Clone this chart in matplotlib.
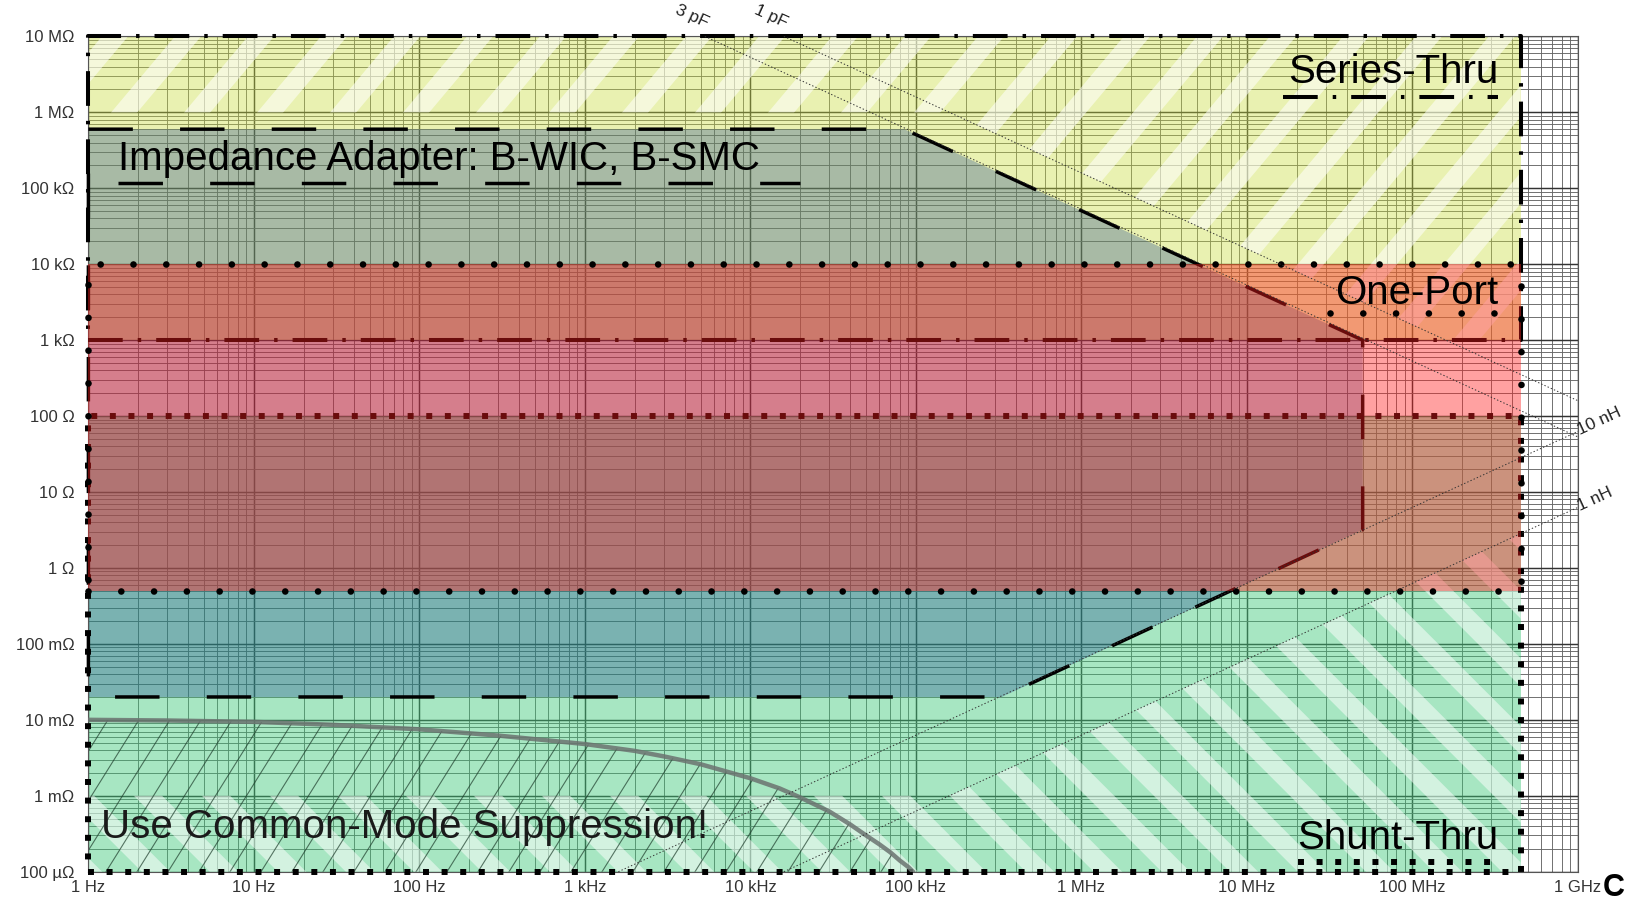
import numpy as np
import matplotlib
matplotlib.use("Agg")
import matplotlib.pyplot as plt
from matplotlib.patches import Polygon
from matplotlib.collections import LineCollection
from matplotlib.ticker import LogLocator, NullFormatter

plt.rcParams['font.family'] = ['Liberation Sans', 'DejaVu Sans']
plt.rcParams['lines.scale_dashes'] = False

# === axis ticks ===
freq_ticks = [1, 10, 100, 1e3, 1e4, 1e5, 1e6, 1e7, 1e8, 1e9]
freq_labels = ["1 Hz", "10 Hz", "100 Hz", "1 kHz", "10 kHz", "100 kHz",
               "1 MHz", "10 MHz", "100 MHz", "1 GHz"]
imp_ticks = [1e-4, 1e-3, 1e-2, 1e-1, 1, 10, 100, 1e3, 1e4, 1e5, 1e6, 1e7]
imp_labels = ["100 µΩ", "1 mΩ", "10 mΩ", "100 mΩ", "1 Ω", "10 Ω", "100 Ω",
              "1 kΩ", "10 kΩ", "100 kΩ", "1 MΩ", "10 MΩ"]

# === measurement regions (frequency span, impedance span) ===
f_lo, f_hi = 1, 4.5e8
series_z = [1e3, 1e7]
oneport_z = [0.5, 1e4]
shunt_z = [1e-4, 100]

# impedance adapter outline
adapter_f = [1, 8.5e4, 5.0e7, 5.0e7, 3.3e5, 1]
adapter_z = [6.0e5, 6.0e5, 1.0e3, 3.2, 2.0e-2, 2.0e-2]

# common-mode boundary
cm_f = [1, 3, 10, 30, 100, 300, 1e3, 2e3, 3e3, 5e3, 1e4, 1.5e4, 2e4, 3e4,
        4e4, 5e4, 6e4, 7e4, 8e4, 9e4, 9.6e4]
cm_z = [1.0e-2, 9.8e-3, 9.4e-3, 8.6e-3, 7.5e-3, 6.2e-3, 4.8e-3, 3.9e-3,
        3.3e-3, 2.6e-3, 1.7e-3, 1.25e-3, 9.5e-4, 6.2e-4, 4.2e-4, 3.0e-4,
        2.3e-4, 1.8e-4, 1.4e-4, 1.15e-4, 1.0e-4]

# parasitic reference lines
caps = [3e-12, 1e-12]
cap_labels = ["3 pF", "1 pF"]
inds = [10e-9, 1e-9]
ind_labels = ["10 nH", "1 nH"]


def zc(f, c):
    return 1.0 / (2 * np.pi * f * c)


def zl(f, l):
    return 2 * np.pi * f * l


DPI = 100
fig = plt.figure(figsize=(16.31, 9.0), dpi=DPI)
ax_pos = [88.4 / 1631, 1 - 871.7 / 900, (1578 - 88.4) / 1631, (871.7 - 36.4) / 900]
ax = fig.add_axes(ax_pos)
W_PX = ax_pos[2] * 1631
H_PX = ax_pos[3] * 900

ax.set_xscale('log')
ax.set_yscale('log')
ax.set_xlim(1, 1e9)
ax.set_ylim(1e-4, 1e7)
ax.set_xticks(freq_ticks)
ax.set_xticklabels(freq_labels)
ax.set_yticks(imp_ticks)
ax.set_yticklabels(imp_labels)
for axis in (ax.xaxis, ax.yaxis):
    axis.set_minor_locator(LogLocator(10, subs=np.arange(2, 10), numticks=100))
    axis.set_minor_formatter(NullFormatter())
ax.tick_params(which='both', length=0, labelsize=12, labelcolor='#333333')
ax.tick_params(axis='x', pad=6)
ax.tick_params(axis='y', pad=10)
ax.grid(which='major', color='#333333', lw=1.05)
ax.grid(which='minor', color='#666666', lw=0.65)
ax.set_axisbelow(True)
for s in ax.spines.values():
    s.set_color('#555555')
    s.set_linewidth(0.8)


def rect(zr):
    return [(f_lo, zr[0]), (f_hi, zr[0]), (f_hi, zr[1]), (f_lo, zr[1])]


def closed(pts):
    xs = [p[0] for p in pts] + [pts[0][0]]
    ys = [p[1] for p in pts] + [pts[0][1]]
    return xs, ys


def add_stripes(clip, angle, period, width, color, alpha, z, phase=0.0):
    a = np.radians(angle)
    d = np.array([np.cos(a), np.sin(a)])
    n = np.array([-np.sin(a), np.cos(a)])
    perp = period * abs(np.sin(a))
    L = np.hypot(W_PX, H_PX)
    ctr = np.array([W_PX / 2, H_PX / 2])
    segs = []
    for c in np.arange(-L + phase, L, perp):
        p0 = (ctr + c * n - L * d) / [W_PX, H_PX]
        p1 = (ctr + c * n + L * d) / [W_PX, H_PX]
        segs.append([p0, p1])
    lc = LineCollection(segs, linewidths=width * 72 / DPI, colors=color,
                        alpha=alpha, transform=ax.transAxes, zorder=z)
    lc.set_capstyle('butt')
    ax.add_collection(lc, autolim=False)
    lc.set_clip_path(clip)


# === fills ===
series_col = (200 / 255, 220 / 255, 60 / 255, 0.4)
shunt_col = (60 / 255, 200 / 255, 120 / 255, 0.45)
adapter_col = (20 / 255, 60 / 255, 140 / 255, 0.3)
oneport_col = (1.0, 0.12, 0.12, 0.42)

ax.add_patch(Polygon(rect(series_z), closed=True, fc=series_col, ec='none', zorder=1))
ax.add_patch(Polygon(rect(shunt_z), closed=True, fc=shunt_col, ec='none', zorder=1))

# stripes where parasitics limit the thru setups
c_ref = caps[1]
series_hatch = Polygon([(f_lo, series_z[1]), (f_hi, series_z[1]), (f_hi, series_z[0]),
                        (1 / (2 * np.pi * series_z[0] * c_ref), series_z[0]),
                        (1 / (2 * np.pi * 1e6 * c_ref), 1e6), (f_lo, 1e6)],
                       closed=True, transform=ax.transData)
add_stripes(series_hatch, 50, 73, 20, 'white', 0.55, 1.5, phase=10)

l_ref = inds[1]
shunt_hatch = Polygon([(f_lo, shunt_z[0]), (f_hi, shunt_z[0]), (f_hi, zl(f_hi, l_ref)),
                       (1e-3 / (2 * np.pi * l_ref), 1e-3), (f_lo, 1e-3)],
                      closed=True, transform=ax.transData)
add_stripes(shunt_hatch, -45, 68, 20, 'white', 0.5, 1.5, phase=20)

# common-mode hatched area
cm_poly = Polygon(list(zip(cm_f, cm_z)) + [(f_lo, shunt_z[0])], closed=True,
                  transform=ax.transData)
add_stripes(cm_poly, 58, 31, 1.1, '#1e3d2c', 0.7, 1.6)

ax.add_patch(Polygon(list(zip(adapter_f, adapter_z)), closed=True,
                     fc=adapter_col, ec='none', zorder=2))

# === borders below the one-port fill ===
xs, ys = closed(rect(series_z))
ax.plot(xs, ys, color='black', lw=2.9, dashes=(25, 10.8, 2.5, 10.8),
        clip_on=False, zorder=3)
xs, ys = closed(rect(shunt_z))
ax.plot(xs, ys, color='black', lw=4.3, dashes=(4.3, 9.1),
        dash_capstyle='butt', clip_on=False, zorder=3)
xs, ys = closed(list(zip(adapter_f, adapter_z)))
ax.plot(xs, ys, color='black', lw=2.5, dashes=(32, 34), clip_on=False, zorder=3)

ax.add_patch(Polygon(rect(oneport_z), closed=True, fc=oneport_col, ec='none', zorder=4))
xs, ys = closed(rect(oneport_z))
ax.plot(xs, ys, color='black', lw=4.8, dashes=(0.01, 23.6),
        dash_capstyle='round', clip_on=False, zorder=5)

# common-mode boundary
ax.plot(cm_f, cm_z, color='#6b7370', lw=3.2, alpha=0.85, zorder=5,
        solid_capstyle='round', solid_joinstyle='round')

# === parasitic lines ===
ang = np.degrees(np.arctan((H_PX / 11) / (W_PX / 9)))
for c, lab in zip(caps, cap_labels):
    f0 = 1 / (2 * np.pi * 1e7 * c)
    ax.plot([f0, 1e9], [1e7, zc(1e9, c)], color='#333333', lw=0.7,
            dashes=(1, 1.5), zorder=6)
    ax.text(f0, 1.2e7, lab, ha='right', va='bottom', rotation=-ang,
            rotation_mode='anchor', fontsize=12.5, color='#222222')
for l, lab in zip(inds, ind_labels):
    f0 = 1e-4 / (2 * np.pi * l)
    ax.plot([f0, 1e9], [1e-4, zl(1e9, l)], color='#333333', lw=0.7,
            dashes=(1, 1.5), zorder=6)
    ax.text(1.0e9, zl(1e9, l), lab, ha='left', va='center', rotation=ang,
            rotation_mode='anchor', fontsize=12.5, color='#222222')

# === labels with legend-style underlines ===
LFS = 29
X_RIGHT = 3.3e8
ax.text(1.5, 1.74e5, "Impedance Adapter: B-WIC, B-SMC", fontsize=LFS,
        ha='left', va='baseline', zorder=7)
ax.plot([1.5, 2.0e4], [1.17e5, 1.17e5], color='black', lw=2.5,
        dashes=(32, 34), zorder=7)

ax.text(X_RIGHT, 2.43e6, "Series-Thru", fontsize=LFS, ha='right', va='baseline', zorder=7)
ax.plot([1.65e7, X_RIGHT], [1.58e6, 1.58e6], color='black', lw=2.9,
        dashes=(25, 10.8, 2.5, 10.8), zorder=7)

ax.text(X_RIGHT, 2.98e3, "One-Port", fontsize=LFS, ha='right', va='baseline', zorder=7)
ax.plot([3.18e7, 3.4e8], [2.27e3, 2.27e3], color='black', lw=4.8,
        dashes=(0.01, 23.6), dash_capstyle='round', zorder=7)

ax.text(X_RIGHT, 1.97e-4, "Shunt-Thru", fontsize=LFS, ha='right', va='baseline', zorder=7)
ax.plot([2.04e7, 3.1e8], [1.33e-4, 1.33e-4], color='black', lw=4.3,
        dashes=(4.3, 9.1), dash_capstyle='butt', zorder=7)

ax.text(1.19, 2.76e-4, "Use Common-Mode Suppression!", fontsize=LFS,
        ha='left', va='baseline', color='#1a1a1a', zorder=7)

fig.text(1603 / 1631, 1 - 888 / 900, "C", fontsize=22, fontweight='bold',
         ha='left', va='center', color='black')

fig.savefig("out.png", dpi=DPI)
